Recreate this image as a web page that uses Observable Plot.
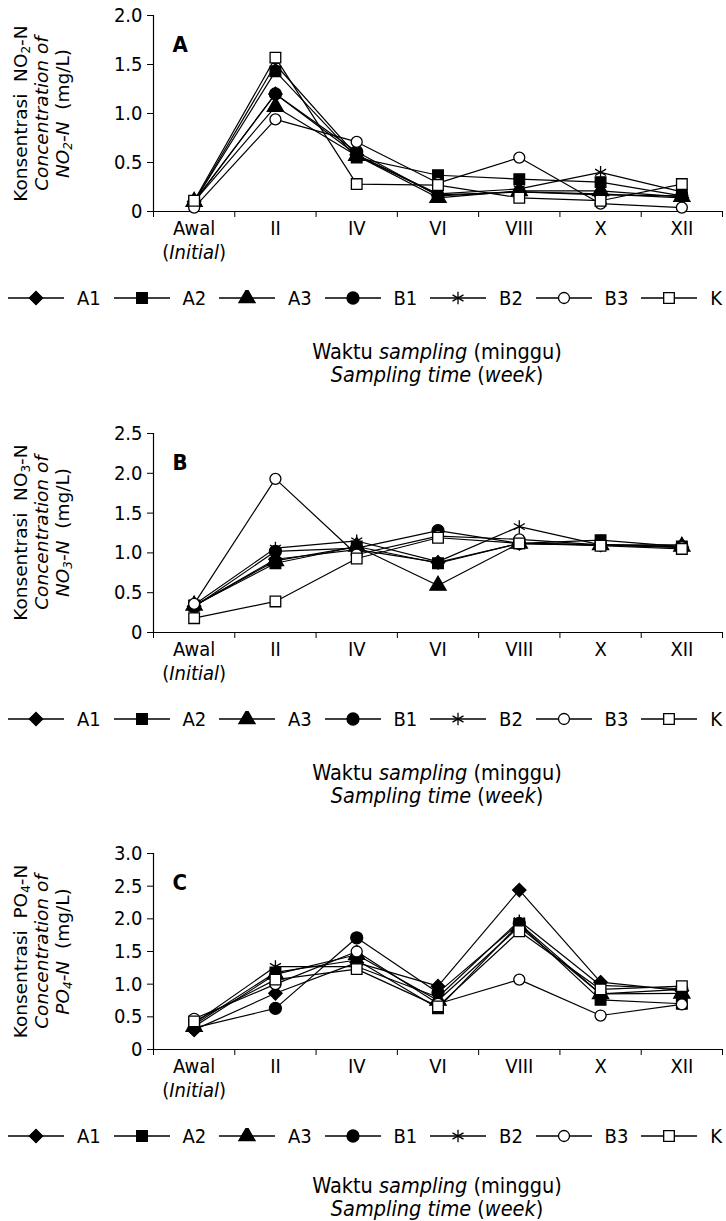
<!DOCTYPE html>
<html><head><meta charset="utf-8">
<script src="https://cdn.jsdelivr.net/npm/d3@7"></script>
<script src="https://cdn.jsdelivr.net/npm/@observablehq/plot@0.6"></script>
<style>
body{margin:0;background:#fff;}
#root{position:relative;width:726px;height:1221px;overflow:hidden;font-family:"DejaVu Sans Condensed",sans-serif;color:#000;}
.panel{position:absolute;left:0;width:726px;}
.ylab{position:absolute;width:260px;height:63px;transform:rotate(-90deg);transform-origin:center;font-family:"DejaVu Sans",sans-serif;font-size:18.5px;line-height:21px;text-align:center;white-space:nowrap;}
.ttl{position:absolute;white-space:nowrap;transform:translate(-50%,-50%);font-size:21.5px;line-height:22px;}
.legend{position:absolute;left:8px;width:714px;display:flex;justify-content:space-between;align-items:center;font-size:20px;transform:translateY(-50%);}
.legend .it{display:flex;align-items:center;}
.legend svg{display:block;}
.legend span{margin-left:13px;}
sub{font-size:12px;vertical-align:-3px;line-height:0;}
</style>
</head><body><div id="root"></div>
<script>
const weeks = ["Awal", "II", "IV", "VI", "VIII", "X", "XII"];
const series = ["A1", "A2", "A3", "B1", "B2", "B3", "K"];

// Panel A: NO2-N (mg/L), rows follow `series`
const no2Values = [
  [0.10, 1.20, 0.58, 0.17, 0.20, 0.18, 0.14],
  [0.10, 1.43, 0.55, 0.37, 0.33, 0.30, 0.16],
  [0.10, 1.07, 0.57, 0.14, 0.21, 0.21, 0.15],
  [0.10, 1.20, 0.61, 0.16, 0.20, 0.17, 0.16],
  [0.10, 1.50, 0.57, 0.18, 0.23, 0.40, 0.20],
  [0.04, 0.94, 0.71, 0.29, 0.55, 0.08, 0.04],
  [0.11, 1.57, 0.28, 0.27, 0.14, 0.11, 0.28]
];
// Panel B: NO3-N (mg/L)
const no3Values = [
  [0.33, 0.92, 1.04, 0.88, 1.12, 1.10, 1.07],
  [0.34, 0.87, 1.08, 0.87, 1.12, 1.16, 1.08],
  [0.34, 0.90, 1.08, 0.59, 1.12, 1.10, 1.08],
  [0.32, 1.02, 1.06, 1.28, 1.12, 1.10, 1.08],
  [0.35, 1.06, 1.15, 0.89, 1.33, 1.10, 1.10],
  [0.36, 1.93, 0.98, 1.21, 1.17, 1.10, 1.07],
  [0.18, 0.39, 0.93, 1.19, 1.12, 1.09, 1.05]
];
// Panel C: PO4-N (mg/L)
const po4Values = [
  [0.30, 0.86, 1.33, 0.97, 2.44, 1.03, 0.90],
  [0.38, 1.18, 1.37, 0.63, 1.92, 0.76, 0.70],
  [0.35, 1.15, 1.45, 0.75, 1.88, 0.85, 0.86],
  [0.33, 0.63, 1.71, 0.87, 1.93, 0.85, 0.92],
  [0.40, 1.27, 1.27, 0.80, 1.97, 0.98, 0.93],
  [0.47, 1.00, 1.50, 0.70, 1.07, 0.52, 0.69],
  [0.43, 1.07, 1.23, 0.66, 1.81, 0.92, 0.97]
];
const yTicksA = [0, 0.5, 1.0, 1.5, 2.0];
const yTicksB = [0, 0.5, 1.0, 1.5, 2.0, 2.5];
const yTicksC = [0, 0.5, 1.0, 1.5, 2.0, 2.5, 3.0];

const symbols = ["diamond2", "square", "triangle", "circle", "asterisk", "circle", "square"];
const d3symbols = [d3.symbolDiamond2, d3.symbolSquare, d3.symbolTriangle, d3.symbolCircle, d3.symbolAsterisk, d3.symbolCircle, d3.symbolSquare];
const fills = ["#000", "#000", "#000", "#000", "none", "#fff", "#fff"];
const radii = [6, 6, 6, 6, 6, 5.5, 6];

const root = document.getElementById("root");
const FONT = '"DejaVu Sans Condensed",sans-serif';

function makePanel(values, ticks, letter, top, plotH, nutrient, sub, titleOffset) {
  const yMax = ticks[ticks.length - 1];
  const mT = 15, mB = 62;
  const marks = [
    Plot.axisY({ticks, tickSize: 6, tickPadding: 5, tickFormat: d => d === 0 ? "0" : d.toFixed(1), label: null}),
    Plot.axisX({ticks: d3.range(-0.5, 7, 1), tickSize: 6, tickFormat: () => "", label: null}),
    Plot.axisX({ticks: d3.range(7), tickSize: 0, tickPadding: 9, tickFormat: j => weeks[j], label: null}),
    Plot.ruleX([-0.5], {y1: 0, y2: yMax, stroke: "#000", strokeWidth: 1.2}),
    Plot.ruleY([0], {stroke: "#000", strokeWidth: 1.2})
  ];
  series.forEach((s, i) => {
    const d = values[i].map((v, j) => ({s, j, v}));
    marks.push(Plot.line(d, {x: "j", y: "v", stroke: "#000", strokeWidth: 1.2}));
    marks.push(Plot.dot(d, {x: "j", y: "v", symbol: symbols[i], fill: fills[i], stroke: "#000", strokeWidth: 1.3, r: radii[i]}));
  });
  marks.push(Plot.text([letter], {frameAnchor: "top-left", dx: 19, dy: 21, fontWeight: "bold", fontSize: 22, fontFamily: FONT}));
  const chart = Plot.plot({
    width: 726, height: plotH + mT + mB,
    marginLeft: 153, marginRight: 4, marginTop: mT, marginBottom: mB,
    x: {domain: [-0.5, 6.5]},
    y: {domain: [0, yMax]},
    style: {fontSize: "20px", fontFamily: FONT, color: "#000", background: "transparent", overflow: "visible"},
    marks
  });
  // second line "(Initial)" under the first tick label, inside the same text element
  d3.select(chart).selectAll("text").filter(function() { return this.textContent === weeks[0]; })
    .each(function() {
      const t = d3.select(this);
      const ts = t.append("tspan").attr("x", 0).attr("dy", "1.2em");
      ts.append("tspan").text("(");
      ts.append("tspan").attr("font-style", "italic").text("Initial");
      ts.append("tspan").text(")");
    });
  const div = document.createElement("div");
  div.className = "panel";
  div.style.top = top + "px";
  div.appendChild(chart);
  root.appendChild(div);

  const zero = top + mT + plotH;

  // y label
  const yl = document.createElement("div");
  yl.className = "ylab";
  const cy = top + mT + plotH / 2;
  yl.style.left = (41 - 130) + "px"; yl.style.top = (cy - 31.5) + "px";
  yl.innerHTML = `Konsentrasi&nbsp; ${nutrient}<sub>${sub}</sub>-N<br><i>Concentration of</i><br><i>${nutrient}<sub>${sub}</sub>-N</i>&nbsp; (mg/L)`;
  root.appendChild(yl);

  // legend
  const lg = document.createElement("div");
  lg.className = "legend";
  lg.style.top = (zero + 87) + "px";
  series.forEach((s, i) => {
    const it = document.createElement("div");
    it.className = "it";
    const svg = d3.create("svg").attr("width", 56).attr("height", 16);
    svg.append("line").attr("x1", 0).attr("x2", 56).attr("y1", 8).attr("y2", 8).attr("stroke", "#000").attr("stroke-width", 1.3);
    svg.append("path").attr("transform", "translate(28,8)")
      .attr("d", d3.symbol(d3symbols[i], Math.PI * radii[i] * radii[i])())
      .attr("fill", fills[i]).attr("stroke", "#000").attr("stroke-width", 1.3);
    it.appendChild(svg.node());
    const sp = document.createElement("span");
    sp.textContent = s;
    it.appendChild(sp);
    lg.appendChild(it);
  });
  root.appendChild(lg);

  // x title
  const t1 = document.createElement("div");
  t1.className = "ttl"; t1.style.left = "437px"; t1.style.top = (zero + titleOffset) + "px";
  t1.innerHTML = "Waktu <i>sampling</i> (minggu)";
  root.appendChild(t1);
  const t2 = document.createElement("div");
  t2.className = "ttl"; t2.style.left = "437px"; t2.style.top = (zero + titleOffset + 23) + "px";
  t2.innerHTML = "<i>Sampling time</i> (<i>week</i>)";
  root.appendChild(t2);
}

makePanel(no2Values, yTicksA, "A", 0, 196, "NO", "2", 141);
makePanel(no3Values, yTicksB, "B", 418, 199, "NO", "3", 141);
makePanel(po4Values, yTicksC, "C", 838, 196, "PO", "4", 137);
</script></body></html>
